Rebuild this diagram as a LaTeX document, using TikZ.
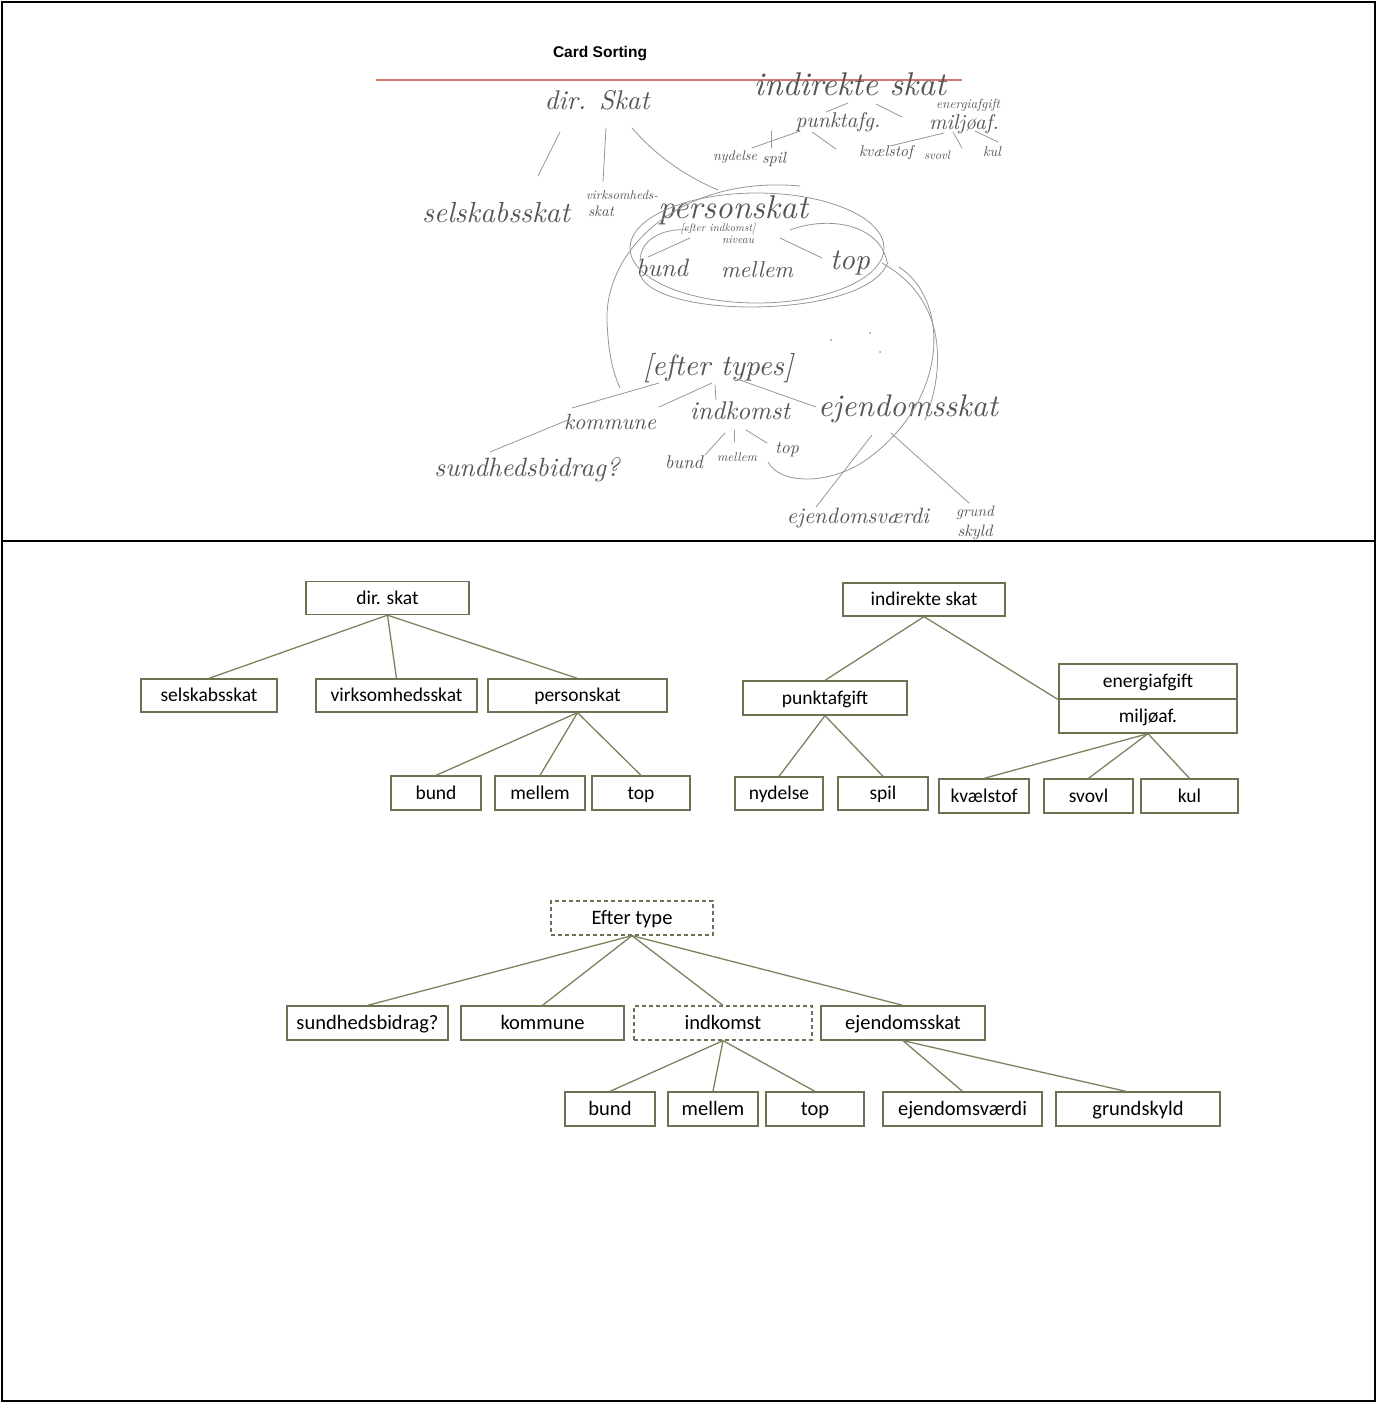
\documentclass[tikz,border=0pt]{standalone}
\usepackage{fontspec}
\usepackage{graphicx}
\newfontfamily\cardfont{Carlito}
\newfontfamily\headfont{Liberation Sans}
\definecolor{boxc}{RGB}{112,112,82}
\definecolor{linkc}{RGB}{128,128,96}
\definecolor{pencilc}{RGB}{150,150,150}
\definecolor{inkc}{RGB}{85,85,85}
\definecolor{rulec}{RGB}{214,120,110}
% scale a handwritten word to a given width (in pt)
\newcommand\hw[2]{\resizebox{#1pt}{!}{#2}}
\begin{document}
\begin{tikzpicture}[x=1pt,y=-1pt,
  card/.style={draw=boxc,line width=1.3pt,fill=white,inner sep=0pt,text=black,
    font=\cardfont\fontsize{19.5}{21}\selectfont,minimum height=33pt,
    text height=15.5pt,text depth=3.5pt},
  bigcard/.style={card,font=\cardfont\fontsize{20.5}{23}\selectfont,
    text height=16pt,text depth=3.5pt},
  dcard/.style={bigcard,dash pattern=on 4pt off 3pt},
  link/.style={draw=linkc,line width=1.3pt},
  pencil/.style={draw=pencilc,line width=0.8pt,line cap=round},
  hand/.style={inner sep=0pt,text=inkc,font=\itshape}]
\useasboundingbox (0,0) rectangle (1376,1403);

% ---------- sketch of the card sort ----------
\node[inner sep=0pt,font=\headfont\bfseries] (title) at (600,54) {\hw{94}{Card Sorting}};
\draw[draw=rulec,line width=1.2pt] (376,80) -- (962,80);

\node[hand] (hdir)  at (597,100) {\hw{105}{dir. Skat}};
\node[hand] (hind)  at (850,84)  {\hw{192}{indirekte skat}};
\node[hand] (hener) at (968,105) {\hw{64}{energiafgift}};
\node[hand] (hpunkt) at (838,122) {\hw{85}{punktafg.}};
\node[hand] (hmilj) at (964,124) {\hw{70}{miljøaf.}};
\node[hand] (hnyd)  at (735,157) {\hw{44}{nydelse}};
\node[hand] (hspil) at (774,159) {\hw{24}{spil}};
\node[hand] (hkv)   at (886,153) {\hw{54}{kvælstof}};
\node[hand] (hsv)   at (937,155) {\hw{26}{svovl}};
\node[hand] (hkul)  at (992,152) {\hw{18}{kul}};
\node[hand] (hvirk) at (622,195) {\hw{72}{virksomheds-}};
\node[hand] (hvirkb) at (601,211) {\hw{26}{skat}};
\node[hand] (hsel)  at (496,213) {\hw{148}{selskabsskat}};
\node[hand] (hpers) at (733,210) {\hw{150}{personskat}};
\node[hand] (hefi)  at (718,229) {\hw{75}{[efter indkomst]}};
\node[hand] (hniv)  at (738,240) {\hw{32}{niveau}};
\node[hand] (hbA)   at (662,268) {\hw{52}{bund}};
\node[hand] (hmA)   at (757,270) {\hw{72}{mellem}};
\node[hand] (htA)   at (850,263) {\hw{40}{top}};
\node[hand] (heft)  at (718,368) {\hw{150}{[efter types]}};
\node[hand] (hkom)  at (610,422) {\hw{92}{kommune}};
\node[hand] (hindk) at (740,411) {\hw{100}{indkomst}};
\node[hand] (hejd)  at (908,409) {\hw{180}{ejendomsskat}};
\node[hand] (hsund) at (527,470) {\hw{185}{sundhedsbidrag?}};
\node[hand] (hbB)   at (684,462) {\hw{38}{bund}};
\node[hand] (hmB)   at (737,457) {\hw{40}{mellem}};
\node[hand] (htB)   at (787,450) {\hw{24}{top}};
\node[hand] (hev)   at (858,518) {\hw{142}{ejendomsværdi}};
\node[hand] (hgsA)  at (975,513) {\hw{38}{grund}};
\node[hand] (hgsB)  at (975,532) {\hw{35}{skyld}};

% pencil strokes
\draw[pencil] (560,132) -- (538,176);
\draw[pencil] (606,128) -- (603,182);
\draw[pencil] (632,128) .. controls (660,160) and (690,178) .. (718,190);
\draw[pencil] (848,103) -- (826,112);
\draw[pencil] (876,104) -- (902,117);
\draw[pencil] (800,131) -- (752,148);
\draw[pencil] (771,131) -- (771,148);
\draw[pencil] (812,132) -- (836,149);
\draw[pencil] (944,133) -- (890,146);
\draw[pencil] (953,132) -- (962,148);
\draw[pencil] (975,131) -- (998,142);
\draw[pencil] (757,248) ellipse [x radius=127,y radius=55];
\draw[pencil] (800,186) .. controls (680,175) and (605,250) .. (607,320)
               .. controls (608,350) and (612,370) .. (620,388);
\draw[pencil] (640,262) .. controls (640,235) and (670,228) .. (688,230);
\draw[pencil] (690,238) -- (648,257);
\draw[pencil] (780,238) -- (822,258);
\draw[pencil] (790,230) .. controls (830,215) and (880,225) .. (887,262);
\draw[pencil] (640,275) .. controls (650,300) and (720,312) .. (790,305)
               .. controls (840,300) and (880,285) .. (888,262);
\draw[pencil] (899,267) .. controls (950,300) and (950,400) .. (866,460)
               .. controls (830,485) and (780,485) .. (768,462);
\draw[pencil] (882,263) .. controls (948,300) and (945,370) .. (925,420);
\draw[pencil] (659,383) -- (572,408);
\draw[pencil] (712,383) -- (659,407);
\draw[pencil] (715,385) -- (716,400);
\draw[pencil] (734,378) -- (816,407);
\draw[pencil] (568,420) -- (490,452);
\draw[pencil] (734,430) -- (734,442);
\draw[pencil] (725,433) -- (705,455);
\draw[pencil] (746,430) -- (767,443);
\draw[pencil] (872,435) -- (816,507);
\draw[pencil] (891,433) -- (969,503);
\fill[pencilc] (831,340) circle (1pt) (870,333) circle (1pt) (880,352) circle (1pt);

% ---------- direct taxes ----------
\node[card,minimum width=163pt] (dir) at (387.5,598) {dir. skat};
\node[card,minimum width=136pt] (sel) at (209,695.5) {selskabsskat};
\node[card,minimum width=161pt] (virk) at (396.5,695.5) {virksomhedsskat};
\node[card,minimum width=179pt] (pers) at (577.5,695.5) {personskat};
\node[card,minimum width=90pt,minimum height=34pt] (bund1) at (436,793) {bund};
\node[card,minimum width=90pt,minimum height=34pt] (mel1) at (540,793) {mellem};
\node[card,minimum width=98pt,minimum height=34pt] (top1) at (641,793) {top};
\foreach \c in {sel,virk,pers} \draw[link] (dir.south) -- (\c.north);
\foreach \c in {bund1,mel1,top1} \draw[link] (pers.south) -- (\c.north);

% ---------- indirect taxes ----------
\node[card,minimum width=162pt] (ind) at (924,599.5) {indirekte skat};
\node[card,minimum width=164pt,minimum height=34pt] (punkt) at (825,698) {punktafgift};
\node[card,minimum width=178pt,minimum height=35pt] (energi) at (1148,681.5) {energiafgift};
\node[card,minimum width=178pt,minimum height=34pt] (miljo) at (1148,716) {miljøaf.};
\node[card,minimum width=88pt] (nyd) at (779,793.5) {nydelse};
\node[card,minimum width=90pt] (spil) at (883,793.5) {spil};
\node[card,minimum width=90pt,minimum height=34pt] (kvael) at (984,796) {kvælstof};
\node[card,minimum width=89pt,minimum height=34pt] (svovl) at (1088.5,796) {svovl};
\node[card,minimum width=97pt,minimum height=34pt] (kul) at (1189.5,796) {kul};
\draw[link] (ind.south) -- (punkt.north);
\draw[link] (ind.south) -- (energi.south west);
\foreach \c in {nyd,spil} \draw[link] (punkt.south) -- (\c.north);
\foreach \c in {kvael,svovl,kul} \draw[link] (miljo.south) -- (\c.north);

% ---------- by type ----------
\node[dcard,minimum width=162pt,minimum height=34pt] (efter) at (632,918) {Efter type};
\node[bigcard,minimum width=161pt,minimum height=34pt] (sund) at (367.5,1023) {sundhedsbidrag?};
\node[bigcard,minimum width=163pt,minimum height=34pt] (komm) at (542.5,1023) {kommune};
\node[dcard,minimum width=178pt,minimum height=34pt] (indk) at (723,1023) {indkomst};
\node[bigcard,minimum width=164pt,minimum height=34pt] (ejd) at (903,1023) {ejendomsskat};
\node[bigcard,minimum width=90pt,minimum height=34pt] (bund2) at (610,1109) {bund};
\node[bigcard,minimum width=90pt,minimum height=34pt] (mel2) at (713,1109) {mellem};
\node[bigcard,minimum width=98pt,minimum height=34pt] (top2) at (815,1109) {top};
\node[bigcard,minimum width=159pt,minimum height=34pt] (ev) at (962.5,1109) {ejendomsværdi};
\node[bigcard,minimum width=164pt,minimum height=34pt] (gs) at (1138,1109) {grundskyld};
\foreach \c in {sund,komm,indk,ejd} \draw[link] (efter.south) -- (\c.north);
\foreach \c in {bund2,mel2,top2} \draw[link] (indk.south) -- (\c.north);
\draw[link] (ejd.south) -- (ev.north);
\draw[link] (ejd.south) -- ([xshift=-12pt]gs.north);

% ---------- frame ----------
\draw[line width=2pt] (2,2) rectangle (1374.5,1401);
\draw[line width=2pt] (2,541) -- (1374.5,541);
\end{tikzpicture}
\end{document}
